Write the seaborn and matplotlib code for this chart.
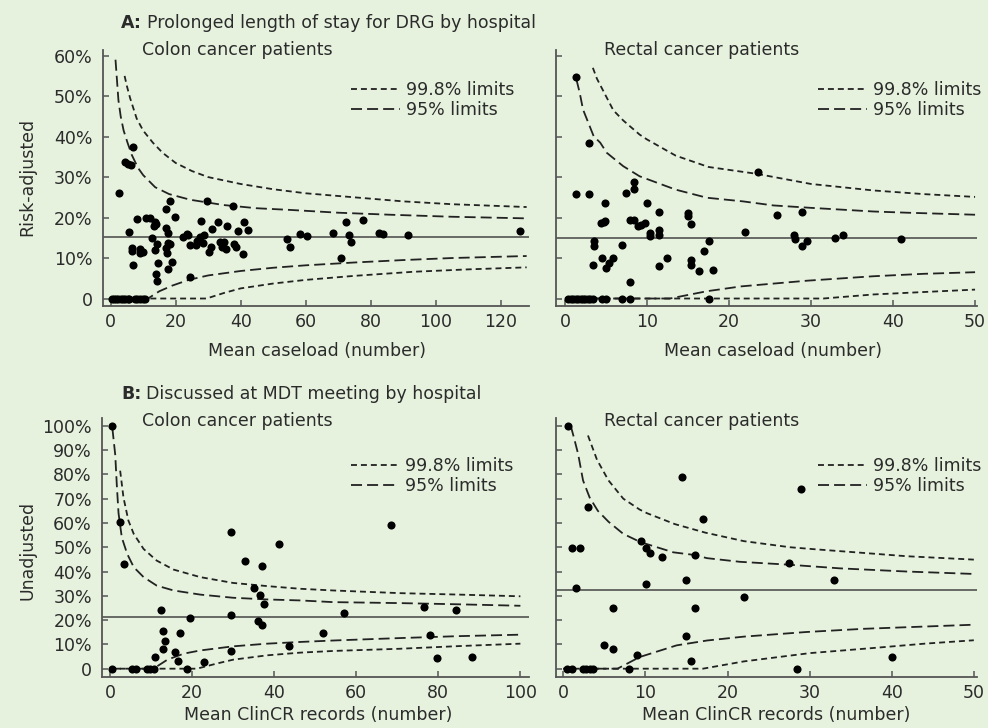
import matplotlib
matplotlib.use("Agg")
import matplotlib.pyplot as plt
from matplotlib.lines import Line2D
import seaborn as sns

# ---------------- data ----------------
# A: prolonged length of stay, colon (x = mean caseload, y = % risk-adjusted)
colon_los_x = [0.3, 1.0, 1.7, 2.4, 3.1, 3.8, 4.5, 5.2, 5.8, 7.4, 8.2, 9.0, 10.0, 10.6,
               2.7, 4.3, 5.3, 6.2, 6.8, 5.5, 6.5, 6.5, 7.0, 8.1, 8.9, 9.1, 10.1, 10.9,
               12.2, 13.2, 13.7, 14.0, 12.8, 13.5, 14.2, 14.5, 14.0, 14.4, 16.9, 18.3,
               19.8, 16.9, 17.5, 17.8, 17.1, 17.3, 17.5, 18.8, 18.3, 22.4, 23.4, 23.9,
               24.5, 24.5, 26.3, 26.7, 27.5, 28.6, 27.9, 28.4, 29.8, 30.4, 30.8, 31.3,
               32.9, 33.5, 34.2, 35.5, 35.7, 35.0, 37.8, 38.0, 38.5, 39.3, 40.7, 40.9,
               42.4, 54.2, 55.3, 58.3, 60.4, 68.4, 70.8, 72.4, 73.2, 73.9, 77.8, 82.7,
               83.9, 91.6, 126.0]
colon_los_y = [0, 0, 0, 0, 0, 0, 0, 0, 0, 0, 0, 0, 0, 0,
               26.0, 33.7, 33.3, 32.9, 37.4, 16.4, 12.6, 11.8, 8.4, 19.7, 12.2, 11.2, 11.6, 19.8,
               19.8, 18.0, 19.0, 18.4, 15.0, 12.0, 13.5, 8.7, 6.0, 4.3, 22.1, 24.1,
               20.1, 17.5, 16.1, 13.8, 12.4, 11.2, 7.2, 9.1, 13.5, 15.3, 15.9, 15.7,
               13.1, 5.4, 13.2, 14.3, 15.3, 15.6, 19.1, 13.8, 24.2, 11.6, 12.8, 17.1,
               18.8, 14.0, 12.8, 12.3, 17.9, 14.0, 22.9, 13.5, 12.8, 16.8, 10.9, 19.0,
               16.9, 14.6, 12.8, 16.0, 15.5, 16.3, 9.9, 18.8, 15.7, 14.0, 19.4, 16.3,
               15.9, 15.8, 16.8]
colon_los_centre = 15.3
colon_los_u998 = [(4.3, 55.0), (5.0, 52.5), (6.0, 49.5), (8.0, 44.5), (10, 41.5), (13, 38.5),
                  (16, 36.0), (20, 33.5), (25, 31.5), (30, 30.0), (40, 28.3), (50, 27.0),
                  (60, 26.0), (75, 25.0), (90, 24.0), (105, 23.3), (128, 22.6)]
colon_los_u95 = [(1.5, 59.0), (2.4, 49.0), (3.1, 45.0), (4.0, 41.5), (5.2, 38.5), (6.5, 35.5),
                 (8.4, 32.3), (10, 30.5), (13.7, 27.5), (18, 25.8), (24.5, 24.4), (34.7, 23.1),
                 (45, 22.3), (55, 21.9), (70, 21.2), (86, 20.7), (105, 20.2), (128, 19.8)]
colon_los_l95 = [(0, 0), (11.5, 0), (15, 1.8), (19, 3.2), (24, 4.6), (30, 5.7), (40, 6.8),
                 (50, 7.6), (60, 8.2), (75, 8.9), (90, 9.5), (105, 10.0), (128, 10.5)]
colon_los_l998 = [(0, 0), (29.5, 0), (35, 1.4), (40, 2.5), (50, 3.7), (60, 4.6), (75, 5.6),
                  (93, 6.6), (110, 7.2), (128, 7.7)]

# A: prolonged length of stay, rectal
rectal_los_x = [0.4, 0.7, 1.0, 1.3, 1.6, 1.9, 2.2, 2.5, 2.8, 3.1, 3.4, 4.5, 5.0, 6.9, 7.9, 17.5,
                1.4, 2.9, 1.4, 2.9, 7.4, 8.4, 8.4, 10.0, 4.9, 4.4, 4.7, 4.9, 7.9, 8.4, 8.9,
                9.3, 9.8, 10.4, 10.4, 11.5, 11.5, 11.5, 15.0, 15.0, 15.4, 17.5, 22.0, 23.5,
                25.9, 28.9, 27.9, 28.0, 28.9, 29.5, 32.9, 33.9, 41.0, 3.5, 3.5, 3.4, 4.5,
                5.0, 5.4, 5.9, 6.9, 7.9, 11.5, 12.4, 15.4, 15.4, 16.4, 16.9, 18.0]
rectal_los_y = [0, 0, 0, 0, 0, 0, 0, 0, 0, 0, 0, 0, 0, 0, 0, 0,
                54.7, 38.4, 25.8, 25.8, 26.1, 28.7, 27.0, 23.6, 23.5, 18.7, 19.0, 19.1, 19.5, 19.3, 17.9,
                18.1, 18.7, 16.1, 15.4, 16.9, 15.7, 21.4, 21.2, 20.5, 18.3, 14.3, 16.5, 31.2,
                20.7, 21.4, 15.6, 14.6, 12.9, 14.2, 15.0, 15.6, 14.6, 14.2, 12.9, 8.4, 9.9,
                7.5, 8.7, 10.1, 13.3, 4.2, 8.0, 9.9, 9.4, 8.4, 6.7, 11.7, 7.1]
rectal_los_centre = 15.0
rectal_los_u998 = [(3.4, 57.0), (3.9, 54.3), (5.0, 50.0), (5.9, 46.5), (7.1, 44.0), (9.1, 40.5),
                   (10, 39.3), (13.5, 35.3), (17.5, 32.5), (23.4, 30.8), (30, 28.3), (37.6, 26.7),
                   (43.7, 25.8), (50, 25.1)]
rectal_los_u95 = [(1.4, 54.1), (1.8, 50.8), (2.2, 46.7), (3.5, 40.1), (4.3, 38.5), (5.1, 36.0),
                  (7.1, 32.7), (9.1, 30.2), (13.5, 26.9), (17.3, 24.9), (21.7, 24.0), (25.4, 23.0),
                  (30, 22.4), (37.6, 21.5), (41.7, 21.2), (50, 20.7)]
rectal_los_l95 = [(0, 0), (12.8, 0), (17.3, 1.8), (21.5, 3.0), (29.5, 4.4), (37.6, 5.5),
                  (43.7, 6.1), (50, 6.5)]
rectal_los_l998 = [(0, 0), (31.5, 0), (37.6, 1.0), (43.7, 1.6), (50, 2.2)]

# B: discussed at MDT meeting, colon (x = mean ClinCR records, y = % unadjusted)
colon_mdt_x = [0.5, 5.5, 6.3, 9.0, 9.8, 10.8, 18.7,
               0.5, 2.4, 3.5, 29.6, 41.1, 33.0, 37.1, 35.0, 36.6, 37.6, 68.6, 12.5, 29.6,
               19.4, 36.0, 37.0, 57.1, 76.6, 84.2, 13.0, 13.4, 17.0, 13.0, 10.9, 15.9,
               16.6, 29.6, 43.7, 52.0, 77.9, 79.8, 88.2, 23.0]
colon_mdt_y = [0, 0, 0, 0, 0, 0, 0,
               100, 60.2, 43.1, 56.1, 51.4, 44.2, 42.1, 33.1, 30.4, 26.7, 59.3, 24.1, 22.2,
               20.9, 19.5, 17.8, 22.9, 25.2, 24.0, 15.7, 11.3, 14.8, 7.9, 4.9, 6.7,
               3.1, 7.1, 9.5, 14.7, 14.0, 4.5, 4.7, 2.6]
colon_mdt_centre = 21.4
colon_mdt_u998 = [(2.5, 81.5), (3.3, 70.5), (4.5, 61.0), (5.8, 55.5), (8.2, 49.3), (11.4, 44.5),
                  (15.5, 40.8), (22, 37.7), (30, 35.3), (38.3, 34.0), (46.3, 32.9), (54.4, 32.2),
                  (70.6, 31.1), (85, 30.5), (100, 29.8)]
colon_mdt_u95 = [(0.6, 99.0), (1.3, 88.0), (1.7, 75.0), (2.1, 64.0), (2.9, 54.0), (4.2, 47.3),
                 (5.8, 41.8), (8.2, 37.7), (11.4, 34.2), (15.5, 32.2), (22, 30.5), (30, 29.2),
                 (38.3, 28.5), (46.3, 28.1), (54.4, 27.4), (70.6, 27.0), (85, 26.5), (100, 25.9)]
colon_mdt_l95 = [(0, 0), (10.6, 0), (14, 3.7), (18, 6.2), (22, 7.5), (30, 9.2), (38.3, 10.3),
                 (46.3, 11.0), (54.4, 11.6), (70.6, 12.6), (85, 13.4), (100, 14.0)]
colon_mdt_l998 = [(0, 0), (21.2, 0), (26, 2.1), (30, 3.7), (38.3, 5.5), (46.3, 6.6),
                  (54.4, 7.3), (70.6, 8.2), (85, 9.3), (100, 10.3)]

# B: discussed at MDT meeting, rectal
rectal_mdt_x = [0.4, 1.0, 2.4, 2.8, 3.2, 3.6, 8.0, 28.5,
                0.6, 1.0, 2.0, 1.6, 3.0, 14.5, 29.0, 17.0, 9.5, 10.1, 10.6, 12.0, 16.0,
                27.5, 15.0, 10.1, 33.0, 22.0, 6.0, 16.0, 15.0, 5.0, 6.0, 9.0, 15.5, 40.0]
rectal_mdt_y = [0, 0, 0, 0, 0, 0, 0, 0,
                99.8, 49.8, 49.8, 33.1, 66.6, 79.0, 74.1, 61.7, 52.6, 49.8, 47.6, 46.0, 46.9,
                43.7, 36.7, 34.8, 36.4, 29.6, 25.0, 25.0, 13.4, 9.9, 8.3, 5.5, 3.2, 4.8]
rectal_mdt_centre = 32.2
rectal_mdt_u998 = [(3.0, 96.0), (4.1, 86.0), (5.5, 77.5), (7.3, 70.0), (9.3, 65.5), (10.2, 64.0),
                   (13.6, 59.5), (17.3, 56.0), (22, 52.5), (27.6, 50.0), (30.5, 49.2), (36, 47.8),
                   (41.8, 46.3), (50, 44.9)]
rectal_mdt_u95 = [(0.9, 100.0), (1.3, 95.0), (1.8, 88.4), (2.4, 77.5), (3.2, 70.5), (4.2, 65.0),
                  (5.5, 60.5), (7.3, 55.5), (9.4, 52.1), (13.4, 47.9), (16, 46.8), (17.5, 45.5),
                  (21.5, 44.0), (27.5, 42.8), (33.7, 41.3), (41.8, 40.0), (50, 39.0)]
rectal_mdt_l95 = [(0, 0), (6.6, 0), (9.3, 4.8), (13.8, 9.6), (17.5, 11.6), (22, 13.2),
                  (29.6, 15.1), (36.5, 16.4), (50, 18.1)]
rectal_mdt_l998 = [(0, 0), (17, 0), (22, 3.0), (30, 6.4), (37.7, 8.5), (44, 10.3), (50, 11.7)]

los_yticks = [0, 10, 20, 30, 40, 50, 60]
mdt_yticks = [0, 10, 20, 30, 40, 50, 60, 70, 80, 90, 100]
legend_labels = ["99.8% limits", "95% limits"]

# ---------------- style ----------------
BG = "#e6f2de"
INK = "#2b2b2b"
AXC = "#555555"
LIM = "#222222"
LW = 1.3
SHORT = (0, (3.3, 2.2))
LONG = (0, (6.1, 2.8))
FS = 12.5

sns.set_style("ticks", rc={"axes.facecolor": BG, "figure.facecolor": BG,
                           "axes.edgecolor": AXC, "text.color": INK,
                           "xtick.color": AXC, "ytick.color": AXC,
                           "axes.labelcolor": INK})
plt.rcParams["font.family"] = ["DejaVu Sans"]
plt.rcParams["font.size"] = FS

W, H = 988, 728
fig = plt.figure(figsize=(W / 100, H / 100), dpi=100)


def px_axes(left, right, top, bottom):
    return fig.add_axes([left / W, 1 - bottom / H, (right - left) / W, (bottom - top) / H])


def pct_labels(ticks):
    return ["0" if t == 0 else f"{t}%" for t in ticks]


def draw_panel(ax, xs, ys, centre, limits, xlim, ylim, xticks, yticks,
               show_ylabels, legend_anchor, xlabel, xlabel_pos):
    ax.axhline(centre, color="#444444", lw=1.1, zorder=1)
    for pts, ls in zip(limits, [SHORT, LONG, LONG, SHORT]):
        sns.lineplot(x=[p[0] for p in pts], y=[p[1] for p in pts], ax=ax, color=LIM,
                     lw=LW, linestyle=ls, estimator=None, sort=False, zorder=2)
    sns.scatterplot(x=xs, y=ys, ax=ax, color="black", s=34, linewidth=0, zorder=3)

    ax.set_xlim(*xlim)
    ax.set_ylim(*ylim)
    ax.set_xticks(xticks)
    ax.set_xticklabels([str(t) for t in xticks])
    ax.set_yticks(yticks)
    if show_ylabels:
        ax.set_yticklabels(pct_labels(yticks))
    else:
        ax.tick_params(labelleft=False)
    ax.tick_params(direction="in", length=4, width=1.1, labelsize=FS, labelcolor=INK)
    ax.tick_params(axis="x", pad=5)
    ax.tick_params(axis="y", pad=7)
    for side in ["top", "right"]:
        ax.spines[side].set_visible(False)
    for side in ["left", "bottom"]:
        ax.spines[side].set_linewidth(1.3)
        ax.spines[side].set_color(AXC)
    ax.set_ylabel("")
    ax.set_xlabel(xlabel, fontsize=FS, color=INK)
    ax.xaxis.set_label_coords(*xlabel_pos)

    handles = [Line2D([], [], color=LIM, lw=LW, linestyle=SHORT),
               Line2D([], [], color=LIM, lw=LW, linestyle=LONG)]
    ax.legend(handles, legend_labels, loc="upper left", bbox_to_anchor=legend_anchor,
              frameon=False, fontsize=FS, handlelength=2.8, handletextpad=0.35,
              labelspacing=0.12, borderpad=0, borderaxespad=0)


ax_a1 = px_axes(102.5, 528.6, 50, 306)
ax_a2 = px_axes(555.7, 976.7, 50, 306)
ax_b1 = px_axes(101.7, 528.6, 418, 676.7)
ax_b2 = px_axes(555.7, 976.7, 418, 676.7)

draw_panel(ax_a1, colon_los_x, colon_los_y, colon_los_centre,
           [colon_los_u998, colon_los_u95, colon_los_l95, colon_los_l998],
           (-2.5, 128.6), (-1.85, 61.4), [0, 20, 40, 60, 80, 100, 120], los_yticks,
           True, (0.583, 0.88), "Mean caseload (number)", (0.503, -0.14))
draw_panel(ax_a2, rectal_los_x, rectal_los_y, rectal_los_centre,
           [rectal_los_u998, rectal_los_u95, rectal_los_l95, rectal_los_l998],
           (-1.13, 50.2), (-1.85, 61.4), [0, 10, 20, 30, 40, 50], los_yticks,
           False, (0.623, 0.88), "Mean caseload (number)", (0.516, -0.14))
draw_panel(ax_b1, colon_mdt_x, colon_mdt_y, colon_mdt_centre,
           [colon_mdt_u998, colon_mdt_u95, colon_mdt_l95, colon_mdt_l998],
           (-2.0, 102.0), (-3.3, 103.2), [0, 20, 40, 60, 80, 100], mdt_yticks,
           True, (0.583, 0.85), "Mean ClinCR records (number)", (0.507, -0.115))
draw_panel(ax_b2, rectal_mdt_x, rectal_mdt_y, rectal_mdt_centre,
           [rectal_mdt_u998, rectal_mdt_u95, rectal_mdt_l95, rectal_mdt_l998],
           (-0.93, 50.35), (-3.3, 103.2), [0, 10, 20, 30, 40, 50], mdt_yticks,
           False, (0.623, 0.85), "Mean ClinCR records (number)", (0.523, -0.115))


def ftext(x_px, y_px, s, **kw):
    return fig.text(x_px / W, 1 - y_px / H, s, va="center", fontsize=FS, color=INK, **kw)


def heading(letter, rest, y_px):
    t = ftext(121, y_px, letter, ha="left", fontweight="bold")
    fig.canvas.draw()
    bb = t.get_window_extent()
    fig.text((bb.x1 + 5) / W, 1 - y_px / H, rest, va="center", ha="left",
             fontsize=FS, color=INK)


heading("A:", "Prolonged length of stay for DRG by hospital", 23)
heading("B:", "Discussed at MDT meeting by hospital", 394)
ftext(142, 50, "Colon cancer patients", ha="left")
ftext(604, 50, "Rectal cancer patients", ha="left")
ftext(142, 421, "Colon cancer patients", ha="left")
ftext(604, 421, "Rectal cancer patients", ha="left")
ftext(27.5, 177, "Risk-adjusted", ha="center", rotation=90)
ftext(27.5, 550, "Unadjusted", ha="center", rotation=90)

fig.savefig("out.png", dpi=100, facecolor=BG)
